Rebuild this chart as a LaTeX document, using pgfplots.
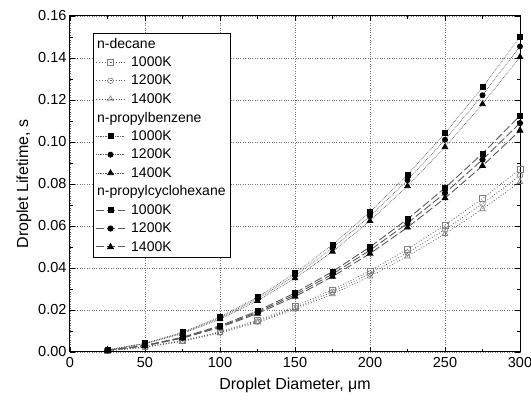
\documentclass[border=0pt]{standalone}
\usepackage{pgfplots}
\pgfplotsset{compat=1.18}
\usepackage{fontspec}
\setmainfont{Liberation Sans}
\definecolor{lineg}{RGB}{90,90,90}
\definecolor{gridg}{RGB}{120,120,120}
\begin{document}
\begin{tikzpicture}
\begin{axis}[name=ax, scale only axis, width=450pt, height=336pt,
  xmin=0, xmax=300, ymin=0, ymax=0.16,
  xtick={0,50,100,150,200,250,300},
  ytick={0,0.02,0.04,0.06,0.08,0.10,0.12,0.14,0.16},
  minor x tick num=1, minor y tick num=1,
  tick align=inside, major tick length=5pt, minor tick length=3pt,
  tick style={black, line width=0.8pt},
  axis line style={line width=1pt},
  grid=major, major grid style={dotted, gridg, line width=0.7pt},
  /pgf/number format/assume math mode=true,
  ticklabel style={font=\fontsize{14.5}{16}\selectfont},
  yticklabel style={/pgf/number format/fixed,/pgf/number format/fixed zerofill,/pgf/number format/precision=2},
  xticklabel style={yshift=-2pt},
  scaled y ticks=false,
  xlabel={Droplet Diameter, μm}, ylabel={Droplet Lifetime, s},
  label style={font=\fontsize{16}{18}\selectfont},
  xlabel style={yshift=-3pt},
  ylabel style={yshift=0pt},
  legend style={at={(0.051,0.949)}, anchor=north west, draw=black, line width=0.8pt,
    font=\fontsize{14}{15}\selectfont, row sep=3.1pt, inner sep=2.5pt,
    /tikz/every odd column/.append style={column sep=4pt}},
  legend cell align=left,
  legend image code/.code={\draw[mark repeat=2,mark phase=2] plot coordinates {(0cm,0cm) (0.5cm,0cm) (1cm,0cm)};},
]
% n-decane (bottom group)
\addlegendimage{empty legend}\addlegendentry{\hspace*{-34pt}n-decane}
\addplot[lineg, dotted, line width=0.8pt, mark=square, mark size=2.8pt, mark options={solid, gray, line width=0.6pt, fill=white}] coordinates {
(25,0.0006) (50,0.00242) (75,0.00544) (100,0.00967) (125,0.0151) (150,0.02175) (175,0.0296) (200,0.03867) (225,0.04894) (250,0.06042) (275,0.07311) (300,0.087)};
\addlegendentry{1000K}
\addplot[lineg, dotted, line width=0.8pt, mark=o, mark size=2.8pt, mark options={solid, gray, line width=0.6pt, fill=white}] coordinates {
(25,0.00058) (50,0.00233) (75,0.00525) (100,0.00933) (125,0.01458) (150,0.021) (175,0.02858) (200,0.03733) (225,0.04725) (250,0.05833) (275,0.07059) (300,0.084)};
\addlegendentry{1200K}
\addplot[lineg, dotted, line width=0.8pt, mark=triangle, mark size=3.3pt, mark options={solid, gray, line width=0.6pt, fill=white}] coordinates {
(25,0.00056) (50,0.00225) (75,0.00506) (100,0.009) (125,0.01406) (150,0.02025) (175,0.02756) (200,0.036) (225,0.04556) (250,0.05625) (275,0.06806) (300,0.081)};
\addlegendentry{1400K}
% n-propylbenzene (top group)
\addlegendimage{empty legend}\addlegendentry{\hspace*{-34pt}n-propylbenzene}
\addplot[lineg, densely dotted, line width=0.7pt, mark=square*, mark size=2.5pt, mark options={solid, black}] coordinates {
(25,0.00104) (50,0.00417) (75,0.00938) (100,0.01667) (125,0.02604) (150,0.0375) (175,0.05104) (200,0.06667) (225,0.08438) (250,0.10417) (275,0.12604) (300,0.150)};
\addlegendentry{1000K}
\addplot[lineg, densely dotted, line width=0.7pt, mark=*, mark size=2.6pt, mark options={solid, black}] coordinates {
(25,0.00101) (50,0.00404) (75,0.00909) (100,0.01617) (125,0.02526) (150,0.03638) (175,0.04951) (200,0.06467) (225,0.08184) (250,0.10104) (275,0.12226) (300,0.1455)};
\addlegendentry{1200K}
\addplot[lineg, densely dotted, line width=0.7pt, mark=triangle*, mark size=3.3pt, mark options={solid, black}] coordinates {
(25,0.00098) (50,0.0039) (75,0.00878) (100,0.01561) (125,0.02439) (150,0.03513) (175,0.04781) (200,0.06244) (225,0.07903) (250,0.09757) (275,0.11806) (300,0.1405)};
\addlegendentry{1400K}
% n-propylcyclohexane (middle group)
\addlegendimage{empty legend}\addlegendentry{\hspace*{-34pt}n-propylcyclohexane}
\addplot[lineg, dash pattern=on 8pt off 3pt, line width=0.9pt, mark=square*, mark size=2.5pt, mark options={solid, black}] coordinates {
(25,0.00078) (50,0.00313) (75,0.00703) (100,0.0125) (125,0.01953) (150,0.02813) (175,0.03828) (200,0.05) (225,0.06328) (250,0.07813) (275,0.09453) (300,0.1125)};
\addlegendentry{1000K}
\addplot[lineg, dash pattern=on 8pt off 3pt, line width=0.9pt, mark=*, mark size=2.6pt, mark options={solid, black}] coordinates {
(25,0.00076) (50,0.00303) (75,0.00681) (100,0.01211) (125,0.01892) (150,0.02725) (175,0.03709) (200,0.04844) (225,0.06131) (250,0.07569) (275,0.09159) (300,0.109)};
\addlegendentry{1200K}
\addplot[lineg, dash pattern=on 8pt off 3pt, line width=0.9pt, mark=triangle*, mark size=3.3pt, mark options={solid, black}] coordinates {
(25,0.00073) (50,0.00293) (75,0.00659) (100,0.01172) (125,0.01832) (150,0.02638) (175,0.0359) (200,0.04689) (225,0.05934) (250,0.07326) (275,0.08865) (300,0.1055)};
\addlegendentry{1400K}
\end{axis}
\pgfresetboundingbox
\path[use as bounding box] ([shift={(-70pt,-48pt)}]ax.south west) rectangle ([shift={(11pt,16pt)}]ax.north east);
\end{tikzpicture}
\end{document}
